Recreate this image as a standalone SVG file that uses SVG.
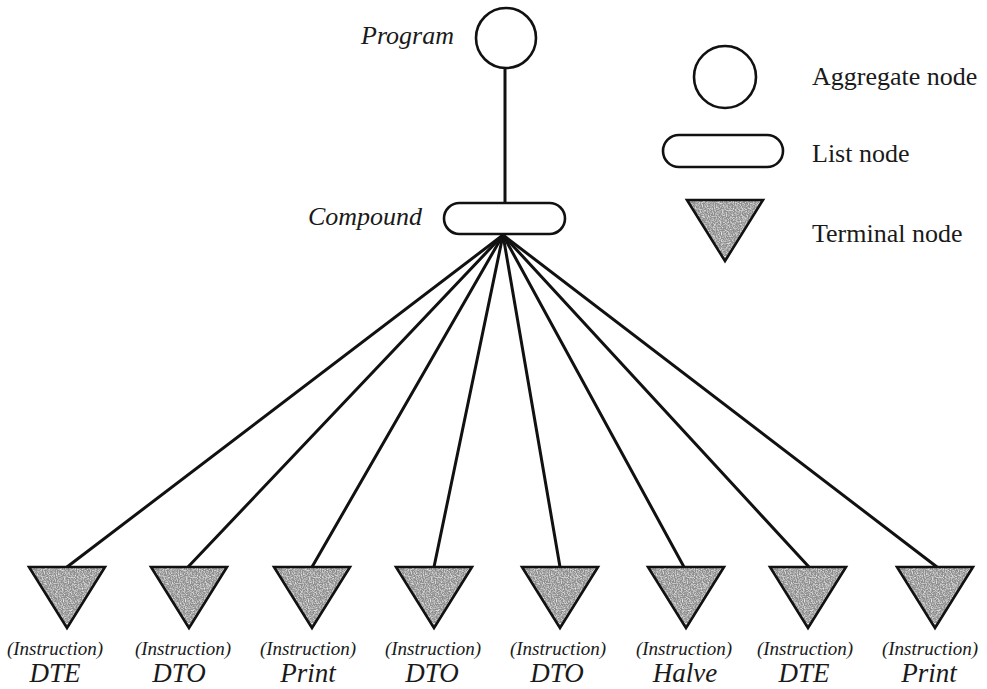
<svg xmlns="http://www.w3.org/2000/svg" width="987" height="689" viewBox="0 0 987 689">
  <style>
    .edge { stroke: #111; stroke-width: 3; fill: none; stroke-linecap: round; }
    .agg { fill: #fff; stroke: #111; stroke-width: 2.6; }
    .list { fill: #fff; stroke: #111; stroke-width: 2.6; }
    .shade { fill: #8e8e8e; stroke: none; filter: url(#grain); }
    .outline { fill: none; stroke: #111; stroke-width: 2.6; stroke-linejoin: miter; }
    .name { font-family: "Liberation Serif", "Times New Roman", serif; font-style: italic; font-size: 26px; fill: #1a1a1a; }
    .kind { font-family: "Liberation Serif", "Times New Roman", serif; font-style: italic; font-size: 19px; fill: #1a1a1a; text-anchor: middle; }
    .ident { font-family: "Liberation Serif", "Times New Roman", serif; font-style: italic; font-size: 27px; fill: #1a1a1a; text-anchor: middle; }
    .legend { font-family: "Liberation Serif", "Times New Roman", serif; font-size: 26px; fill: #1a1a1a; }
  </style>
  <defs>
    <!-- halftone-like grain for the shaded terminal triangles -->
    <filter id="grain" x="-5%" y="-5%" width="110%" height="110%">
      <feTurbulence type="fractalNoise" baseFrequency="0.85" numOctaves="2" seed="4" result="noise"/>
      <feColorMatrix in="noise" type="matrix" values="0 0 0 0 0.85  0 0 0 0 0.85  0 0 0 0 0.85  0 0 0 2.2 -0.9" result="speck"/>
      <feComposite in="speck" in2="SourceGraphic" operator="in" result="clipped"/>
      <feMerge>
        <feMergeNode in="SourceGraphic"/>
        <feMergeNode in="clipped"/>
      </feMerge>
    </filter>
    <g id="tri">
      <polygon class="shade" points="-38,0 38,0 0,61"/>
      <polygon class="outline" points="-38,0 38,0 0,61"/>
    </g>
  </defs>

  <rect width="987" height="689" fill="#fff"/>

  <!-- connectors -->
  <g id="edges">
    <line class="edge" x1="505" y1="68" x2="505" y2="203"/>
    <line class="edge" x1="503" y1="235" x2="67" y2="567"/>
    <line class="edge" x1="503" y1="235" x2="188" y2="567"/>
    <line class="edge" x1="503" y1="235" x2="312" y2="567"/>
    <line class="edge" x1="503" y1="235" x2="434" y2="567"/>
    <line class="edge" x1="503" y1="235" x2="560" y2="567"/>
    <line class="edge" x1="503" y1="235" x2="684" y2="567"/>
    <line class="edge" x1="503" y1="235" x2="809" y2="567"/>
    <line class="edge" x1="503" y1="235" x2="937" y2="567"/>
  </g>

  <g id="program">
    <circle class="agg" cx="506" cy="38" r="30"/>
    <text class="name" x="361" y="44">Program</text>
  </g>

  <g id="compound">
    <rect class="list" x="444" y="203" width="121" height="31" rx="15.5"/>
    <text class="name" x="308" y="225">Compound</text>
  </g>

  <g id="instr1">
    <use href="#tri" x="67" y="567"/>
    <text class="kind" x="55" y="655">(Instruction)</text>
    <text class="ident" x="55" y="682">DTE</text>
  </g>
  <g id="instr2">
    <use href="#tri" x="189" y="567"/>
    <text class="kind" x="183" y="655">(Instruction)</text>
    <text class="ident" x="179" y="682">DTO</text>
  </g>
  <g id="instr3">
    <use href="#tri" x="312" y="567"/>
    <text class="kind" x="308" y="655">(Instruction)</text>
    <text class="ident" x="308" y="682">Print</text>
  </g>
  <g id="instr4">
    <use href="#tri" x="434" y="567"/>
    <text class="kind" x="433" y="655">(Instruction)</text>
    <text class="ident" x="432" y="682">DTO</text>
  </g>
  <g id="instr5">
    <use href="#tri" x="560" y="567"/>
    <text class="kind" x="558" y="655">(Instruction)</text>
    <text class="ident" x="557" y="682">DTO</text>
  </g>
  <g id="instr6">
    <use href="#tri" x="686" y="567"/>
    <text class="kind" x="684" y="655">(Instruction)</text>
    <text class="ident" x="685" y="682">Halve</text>
  </g>
  <g id="instr7">
    <use href="#tri" x="808" y="567"/>
    <text class="kind" x="805" y="655">(Instruction)</text>
    <text class="ident" x="804" y="682">DTE</text>
  </g>
  <g id="instr8">
    <use href="#tri" x="935" y="567"/>
    <text class="kind" x="930" y="655">(Instruction)</text>
    <text class="ident" x="929" y="682">Print</text>
  </g>

  <!-- key -->
  <g id="legend-aggregate">
    <circle class="agg" cx="725" cy="77" r="31"/>
    <text class="legend" x="812" y="85">Aggregate node</text>
  </g>
  <g id="legend-list">
    <rect class="list" x="663" y="135" width="120" height="32" rx="16"/>
    <text class="legend" x="812" y="162">List node</text>
  </g>
  <g id="legend-terminal">
    <use href="#tri" x="725" y="200"/>
    <text class="legend" x="812" y="242">Terminal node</text>
  </g>
</svg>
